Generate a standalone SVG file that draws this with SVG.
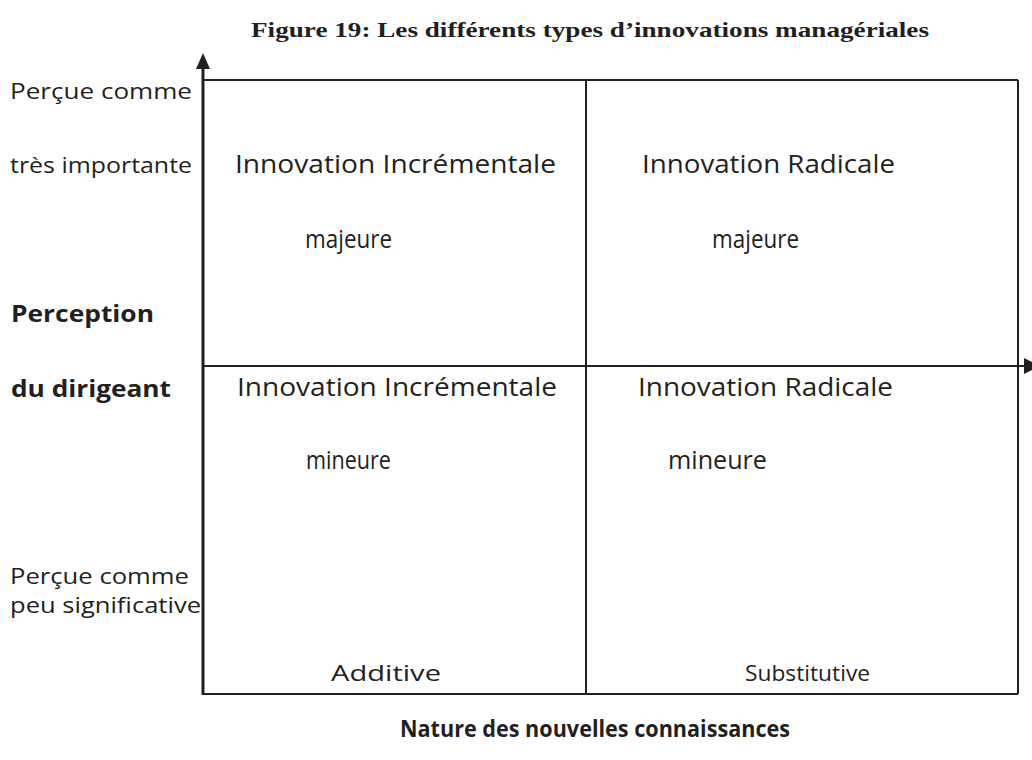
<svg xmlns="http://www.w3.org/2000/svg" width="1032" height="760" viewBox="0 0 1032 760">
<style>
.t{font-family:"Open Sans","Noto Sans","Liberation Sans",sans-serif;fill:#231f20;}
.c{font-size:26px;}
.l{font-size:22px;}
.b{font-weight:bold;font-size:24px;}
.title{font-family:"Liberation Serif","Times New Roman",serif;font-weight:bold;font-size:22px;fill:#231f20;}
.ln{stroke:#231f20;stroke-width:2;fill:none;}
</style>
<rect width="1032" height="760" fill="#fff"/>
<text class="title" x="251" y="37" textLength="678" lengthAdjust="spacingAndGlyphs">Figure 19: Les différents types d’innovations managériales</text>
<g id="connectors">
<line class="ln" x1="203" y1="80" x2="1018" y2="80"/>
<line class="ln" x1="1018" y1="80" x2="1018" y2="694"/>
<line class="ln" x1="203" y1="694" x2="1018" y2="694"/>
<line class="ln" x1="586" y1="80" x2="586" y2="694"/>
<line class="ln" x1="203" y1="366" x2="1026" y2="366"/>
<polygon points="1024,358 1040,366 1024,374" fill="#231f20"/>
<line class="ln" x1="203" y1="695" x2="203" y2="66" style="stroke-width:3"/>
<polygon points="196,69 203,53 210,69" fill="#231f20"/>
</g>
<g id="left-labels">
<text class="t l" x="10" y="99" textLength="182" lengthAdjust="spacingAndGlyphs">Perçue comme</text>
<text class="t l" x="10" y="173" textLength="182" lengthAdjust="spacingAndGlyphs">très importante</text>
<text class="t b" x="11" y="322" textLength="143" lengthAdjust="spacingAndGlyphs">Perception</text>
<text class="t b" x="11" y="397" textLength="160" lengthAdjust="spacingAndGlyphs">du dirigeant</text>
<text class="t l" x="10" y="584" textLength="179" lengthAdjust="spacingAndGlyphs">Perçue comme</text>
<text class="t l" x="10" y="613" textLength="191" lengthAdjust="spacingAndGlyphs">peu significative</text>
</g>
<g id="cell-tl">
<text class="t c" x="235" y="173" textLength="321" lengthAdjust="spacingAndGlyphs">Innovation Incrémentale</text>
<text class="t c" x="305" y="248" textLength="87" lengthAdjust="spacingAndGlyphs">majeure</text>
</g>
<g id="cell-tr">
<text class="t c" x="642" y="173" textLength="253" lengthAdjust="spacingAndGlyphs">Innovation Radicale</text>
<text class="t c" x="712" y="248" textLength="87" lengthAdjust="spacingAndGlyphs">majeure</text>
</g>
<g id="cell-bl">
<text class="t c" x="237" y="396" textLength="320" lengthAdjust="spacingAndGlyphs">Innovation Incrémentale</text>
<text class="t c" x="306" y="469" textLength="85" lengthAdjust="spacingAndGlyphs">mineure</text>
</g>
<g id="cell-br">
<text class="t c" x="638" y="396" textLength="255" lengthAdjust="spacingAndGlyphs">Innovation Radicale</text>
<text class="t c" x="668" y="469" textLength="99" lengthAdjust="spacingAndGlyphs">mineure</text>
</g>
<g id="bottom-labels">
<text class="t l" x="331" y="681" textLength="110" lengthAdjust="spacingAndGlyphs">Additive</text>
<text class="t l" x="745" y="681" textLength="125" lengthAdjust="spacingAndGlyphs">Substitutive</text>
<text class="t b" x="400" y="737" textLength="390" lengthAdjust="spacingAndGlyphs">Nature des nouvelles connaissances</text>
</g>
</svg>
